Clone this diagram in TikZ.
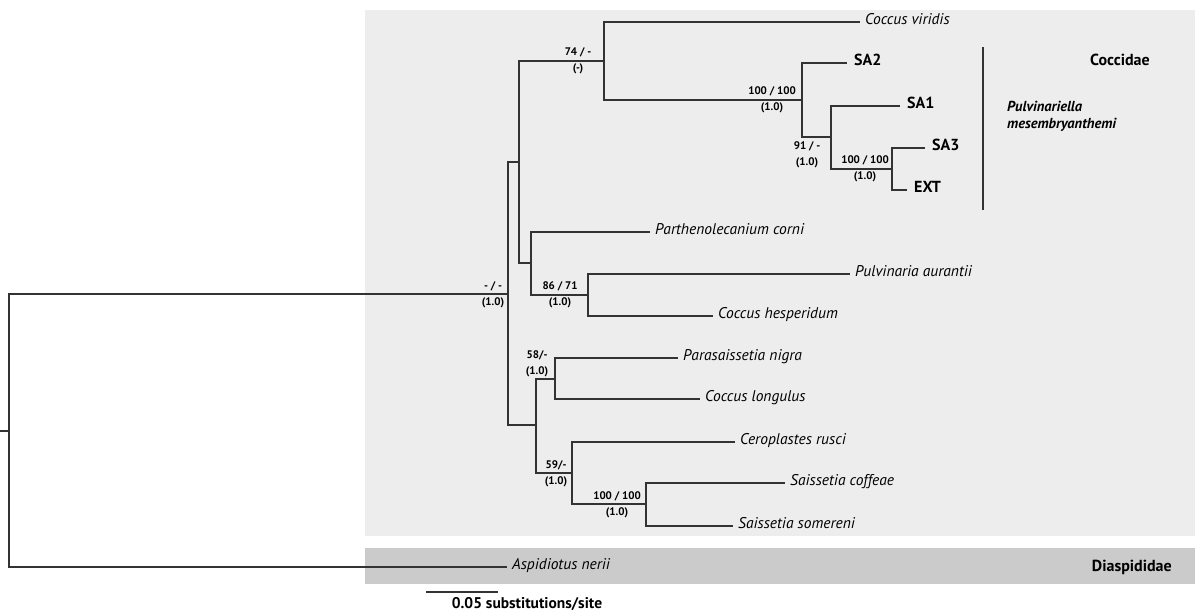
\documentclass[tikz,border=0pt]{standalone}
\usepackage{fontspec}
\setmainfont{PT Sans}
\definecolor{cladegrey}{HTML}{EDEDED}
\definecolor{outgrey}{HTML}{CBCBCB}
\definecolor{branchcol}{HTML}{333333}
\tikzset{
    branch/.style={line width=1.1pt, draw=branchcol},
    taxon/.style={anchor=west, inner xsep=5pt, inner ysep=0pt, text height=0.72em, text depth=0.22em, font=\itshape\fontsize{15.5}{17}\selectfont},
    clone/.style={anchor=west, inner xsep=7pt, inner ysep=0pt, text height=0.72em, text depth=0.22em, font=\bfseries\fontsize{16}{18}\selectfont},
    support/.style={align=center, inner sep=0pt, font=\bfseries\fontsize{11}{16}\selectfont},
    family/.style={inner sep=0pt, font=\bfseries\fontsize{16}{18}\selectfont}
}
\begin{document}
\begin{tikzpicture}[x=1pt, y=-1pt]
    \useasboundingbox (0,0) rectangle (1197,613);

    % Shaded family blocks
    \fill[cladegrey] (365,10) rectangle (1195,536);
    \fill[outgrey] (365,548) rectangle (1195,584);

    % Internal nodes
    \coordinate (stem) at (0,431);
    \coordinate (root) at (9,431);
    \coordinate (ingroup) at (508,294);
    \coordinate (n1) at (519,162);
    \coordinate (n74) at (604,61);
    \coordinate (nsa) at (802,100);
    \coordinate (n91) at (831,137);
    \coordinate (nsa3) at (892,169);
    \coordinate (n2) at (531,263);
    \coordinate (n86) at (588,295);
    \coordinate (n3) at (536,425);
    \coordinate (n58) at (555,379);
    \coordinate (n59) at (572,473);
    \coordinate (nsai) at (646,504);

    % Tips
    \node[taxon] (cvir) at (860,22) {Coccus viridis};
    \node[clone] (sa2) at (847,63) {SA2};
    \node[clone] (sa1) at (900,106) {SA1};
    \node[clone] (sa3) at (925,148) {SA3};
    \node[clone] (ext) at (907,190) {EXT};
    \node[taxon] (pcor) at (650,232) {Parthenolecanium corni};
    \node[taxon] (paur) at (850,274) {Pulvinaria aurantii};
    \node[taxon] (ches) at (713,316) {Coccus hesperidum};
    \node[taxon] (pnig) at (678,358) {Parasaissetia nigra};
    \node[taxon] (clon) at (700,399) {Coccus longulus};
    \node[taxon] (crus) at (735,442) {Ceroplastes rusci};
    \node[taxon] (scof) at (785,483) {Saissetia coffeae};
    \node[taxon] (ssom) at (733,526) {Saissetia somereni};
    \node[taxon] (aner) at (507,567) {Aspidiotus nerii};

    % Branches
    \draw[branch] (stem) -- (root);
    \foreach \a/\b in {root/ingroup, root/aner, ingroup/n1, ingroup/n3,
                       n1/n74, n1/n2, n74/cvir, n74/nsa, nsa/sa2, nsa/n91,
                       n91/sa1, n91/nsa3, nsa3/sa3, nsa3/ext,
                       n2/pcor, n2/n86, n86/paur, n86/ches,
                       n3/n58, n3/n59, n58/pnig, n58/clon,
                       n59/crus, n59/nsai, nsai/scof, nsai/ssom} {
        \draw[branch] (\a) |- (\b);
    }

    % Support values
    \node[support] (s74) at (578,61) {74 / -\\(-)};
    \node[support] (ssa) at (772,100) {100 / 100\\(1.0)};
    \node[support] (s91) at (807,155) {91 / -\\(1.0)};
    \node[support] (ssa3) at (865,169) {100 / 100\\(1.0)};
    \node[support] (sroot) at (493,295) {- / -\\(1.0)};
    \node[support] (s86) at (560,295) {86 / 71\\(1.0)};
    \node[support] (s58) at (537,364) {58/-\\(1.0)};
    \node[support] (s59) at (556,474) {59/-\\(1.0)};
    \node[support] (ssai) at (617,505) {100 / 100\\(1.0)};

    % Clade bar and names
    \coordinate (bartop) at (983,47);
    \coordinate (barbot) at (983,210);
    \draw[branch] (bartop) -- (barbot);
    \node[anchor=west, align=left, inner sep=0pt, font=\bfseries\itshape\fontsize{14.5}{17}\selectfont] (pmes) at (1007,116) {Pulvinariella\\mesembryanthemi};
    \node[family] (coccidae) at (1120,60) {Coccidae};
    \node[family, anchor=east] (diasp) at (1172,567) {Diaspididae};

    % Scale bar
    \coordinate (sbl) at (426,592);
    \coordinate (sbr) at (498,592);
    \draw[branch] (sbl) -- (sbr);
    \node[inner sep=0pt, font=\bfseries\fontsize{15.5}{17}\selectfont] (scale) at (527,604) {0.05 substitutions/site};
\end{tikzpicture}
\end{document}
